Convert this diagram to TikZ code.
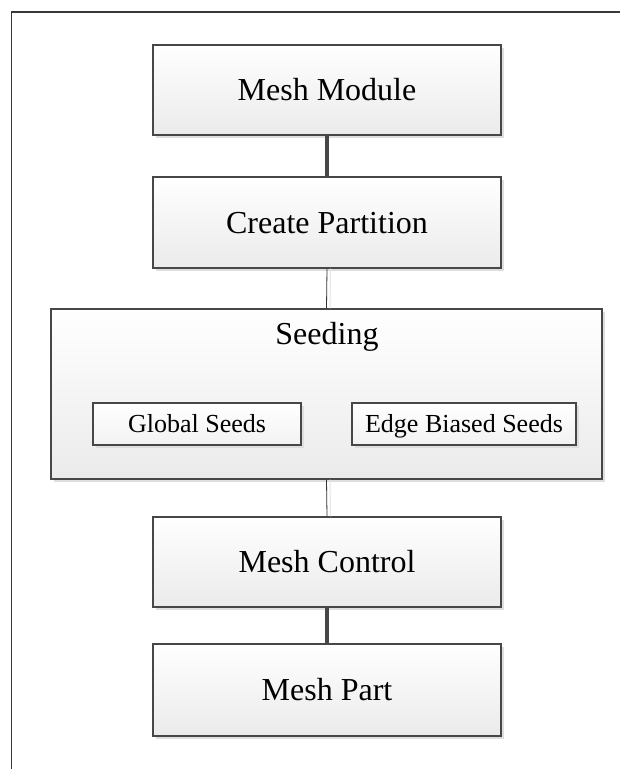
\documentclass[tikz,border=0pt]{standalone}
\usepackage{fontspec}
\setmainfont{Liberation Serif}
\usetikzlibrary{shadows}
\begin{document}
\begin{tikzpicture}[x=1pt,y=1pt,
  box/.style={rectangle, draw=black!72, line width=1.1pt,
    top color=white, bottom color=black!8,
    general shadow={fill=black!13, shadow xshift=3pt, shadow yshift=-3pt},
    inner sep=0pt, align=center},
  bigbox/.style={box, minimum width=348pt, font=\fontsize{32}{36}\selectfont,
    text height=21pt, text depth=0pt},
  subbox/.style={box, minimum height=42pt, font=\fontsize{26}{30}\selectfont,
    text height=17pt, text depth=0pt,
    top color=white, bottom color=black!5},
  thickconn/.style={draw=black!72, line width=4pt},
  thinconn/.style={draw=black!80, line width=0.8pt},
  connshadow/.style={draw=black!10, line width=1pt},
]
\useasboundingbox (0,0) rectangle (620,-769);
% outer frame (left and top edges)
\coordinate (fbl) at (11.5,-769);
\coordinate (ftl) at (11.5,-12);
\coordinate (ftr) at (620,-12);
\draw[black!78, line width=1.6pt] (fbl) -- (ftl) -- (ftr);

\node[bigbox, minimum height=90pt] (mm) at (327,-90) {Mesh Module};
\node[bigbox, minimum height=91pt] (cp) at (327,-222.5) {Create Partition};
\node[box, minimum width=551pt, minimum height=170pt] (seed) at (326.5,-394) {};
\node[font=\fontsize{32}{36}\selectfont, anchor=base, inner sep=0pt] (seedlbl) at (327,-344) {Seeding};
\node[subbox, minimum width=208pt] (gs) at (197,-424) {Global Seeds};
\node[subbox, minimum width=224pt] (ebs) at (464,-424) {Edge Biased Seeds};
\node[bigbox, minimum height=90pt] (mc) at (327,-562) {Mesh Control};
\node[bigbox, minimum height=92pt] (mp) at (327,-690) {Mesh Part};

% connector shadows
\draw[connshadow] ([xshift=3.5pt]cp.south) -- ([xshift=3.5pt]seed.north);
\draw[connshadow] ([xshift=3.5pt]seed.south) -- ([xshift=3.5pt]mc.north);
% connectors
\draw[thickconn] (mm.south) -- (cp.north);
\draw[thinconn] (cp.south) -- (seed.north);
\draw[thinconn] (seed.south) -- (mc.north);
\draw[thickconn] (mc.south) -- (mp.north);
\end{tikzpicture}
\end{document}
